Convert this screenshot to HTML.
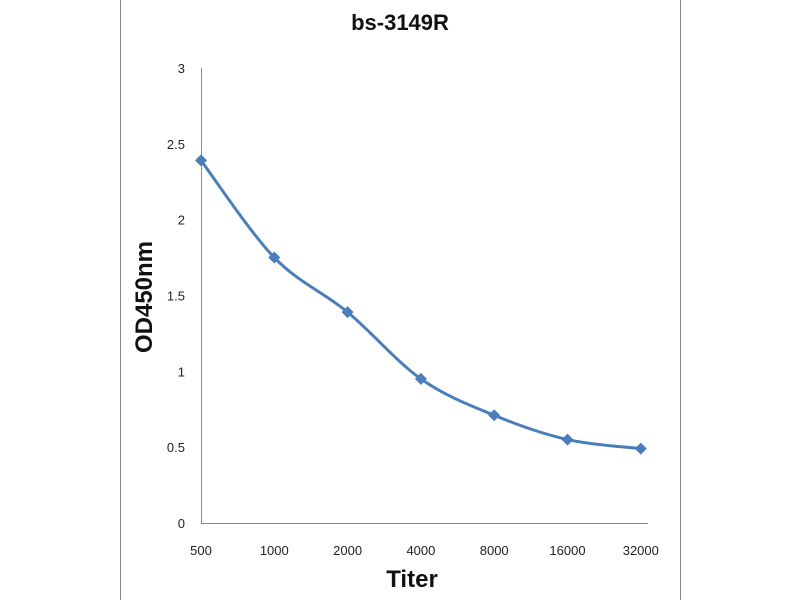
<!DOCTYPE html>
<html><head><meta charset="utf-8"><style>
body{margin:0;background:#fff}
svg{display:block;font-family:"Liberation Sans",sans-serif}
</style></head><body>
<svg width="800" height="600">
<line x1="120.5" y1="0" x2="120.5" y2="600" stroke="#888" stroke-width="1"/>
<line x1="680.5" y1="0" x2="680.5" y2="600" stroke="#888" stroke-width="1"/>
<text x="400" y="30" text-anchor="middle" font-size="22" font-weight="bold" fill="#111">bs-3149R</text>
<text transform="translate(152,297) rotate(-90)" text-anchor="middle" font-size="24" font-weight="bold" fill="#111">OD450nm</text>
<text x="412" y="587" text-anchor="middle" font-size="24" font-weight="bold" fill="#111">Titer</text>
<g id="axes"></g>
<g id="marks"></g>
</svg>
<script>
const categories=["500","1000","2000","4000","8000","16000","32000"];
const values=[2.39,1.75,1.39,0.95,0.71,0.55,0.49];
const yTicks=[0,0.5,1,1.5,2,2.5,3];
const NS="http://www.w3.org/2000/svg";
const x=i=>201+i*73.3;
const y=v=>523-v*151.7;
const axes=document.getElementById('axes'),marks=document.getElementById('marks');
function mk(tag,attrs,parent){const e=document.createElementNS(NS,tag);for(const k in attrs)e.setAttribute(k,attrs[k]);parent.appendChild(e);return e;}
let a=mk('line',{x1:201.5,y1:y(3),x2:201.5,y2:523.5,stroke:'#888'},axes);


a=mk('line',{x1:201,y1:523.5,x2:648,y2:523.5,stroke:'#888'},axes);


yTicks.forEach(t=>{const e=mk('text',{x:185,y:y(t)+5,'text-anchor':'end','font-size':13,fill:'#222'},axes);e.textContent=String(t);

});
categories.forEach((c,i)=>{const e=mk('text',{x:x(i),y:555,'text-anchor':'middle','font-size':13,fill:'#222'},axes);e.textContent=c;

});
// smooth curve (Catmull-Rom)
const pts=values.map((v,i)=>[x(i),y(v)]);
let d=`M${pts[0][0]},${pts[0][1]}`;
for(let i=0;i<pts.length-1;i++){const p0=pts[Math.max(0,i-1)],p1=pts[i],p2=pts[i+1],p3=pts[Math.min(pts.length-1,i+2)];const k=1/6;
d+=` C${p1[0]+(p2[0]-p0[0])*k},${p1[1]+(p2[1]-p0[1])*k} ${p2[0]-(p3[0]-p1[0])*k},${p2[1]-(p3[1]-p1[1])*k} ${p2[0]},${p2[1]}`;}
const line=mk('path',{d:d,fill:'none',stroke:'#4a7ebb','stroke-width':3},marks);


pts.forEach(p=>{const m=mk('polygon',{points:`${p[0]},${p[1]-6} ${p[0]+6},${p[1]} ${p[0]},${p[1]+6} ${p[0]-6},${p[1]}`,fill:'#4a7ebb'},marks);

});
</script>
</body></html>
